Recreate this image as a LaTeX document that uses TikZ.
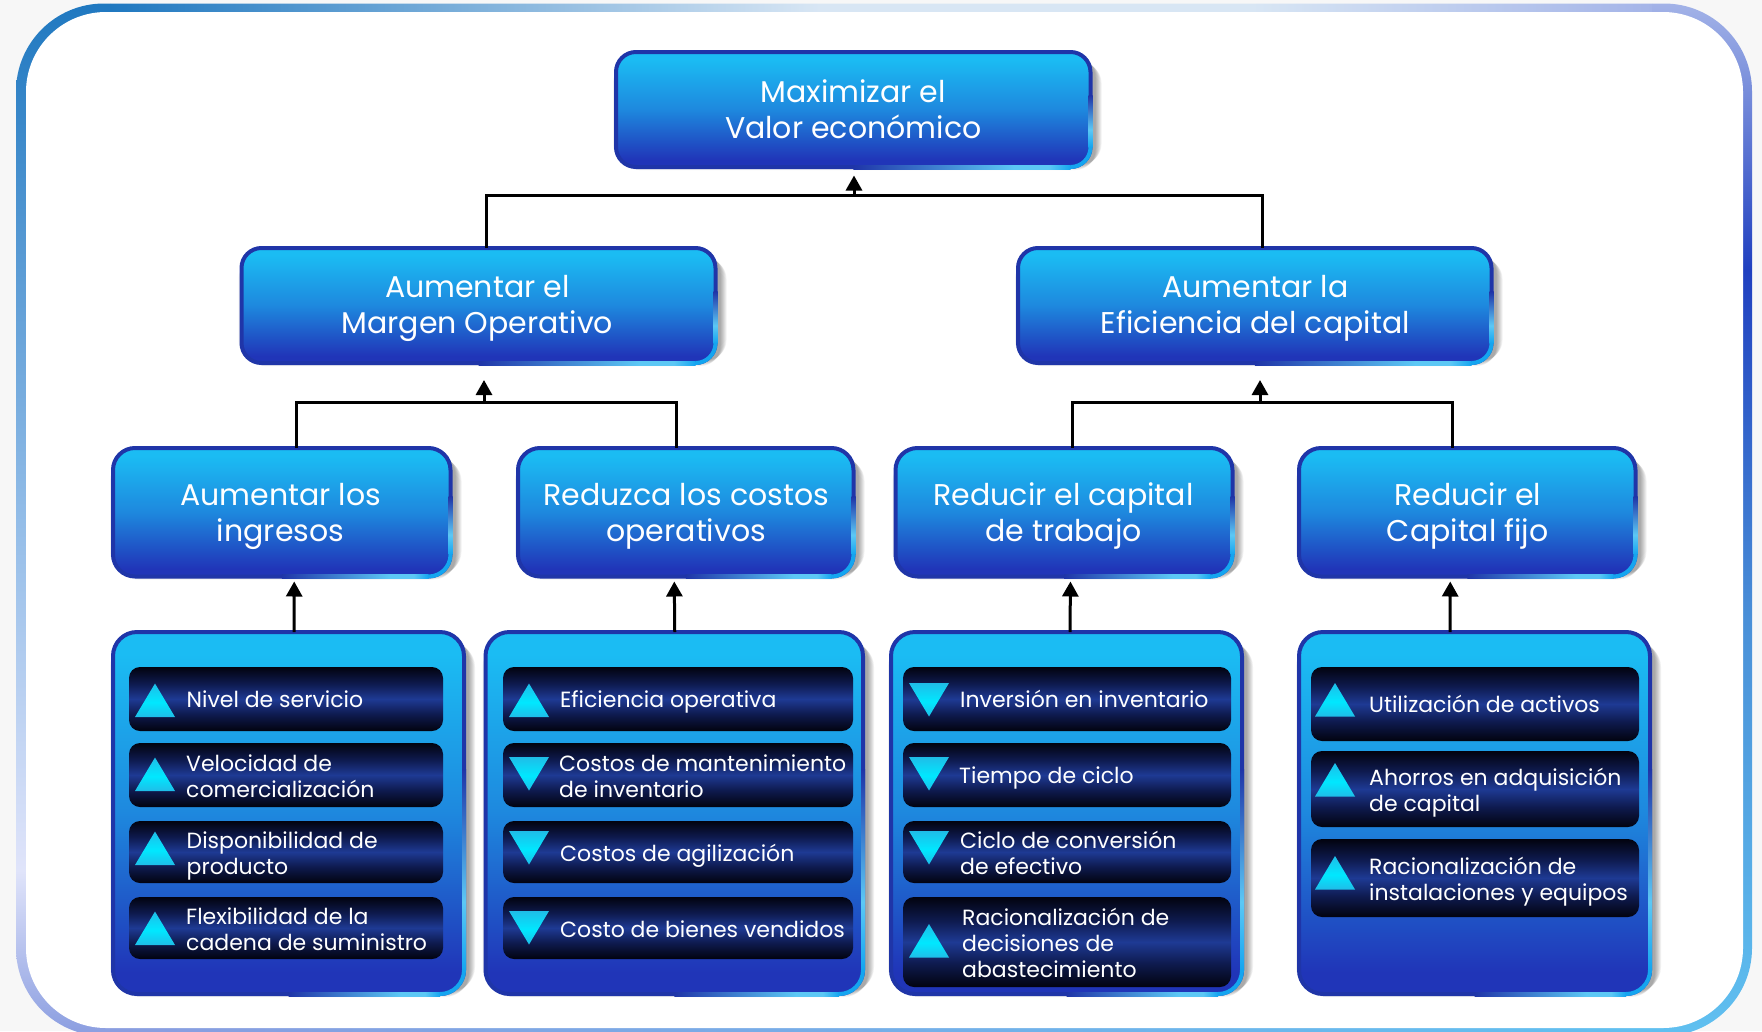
\documentclass[tikz,border=0pt]{standalone}
\usepackage{fontspec}
\setmainfont{Poppins}
\usetikzlibrary{arrows.meta,calc}
\pgfdeclarelayer{framelayer}
\pgfdeclarelayer{shadowlayer}
\pgfsetlayers{framelayer,shadowlayer,main}
\definecolor{bordB}{HTML}{1F35A8}
\definecolor{topC}{HTML}{1BBCF3}
\definecolor{midC}{HTML}{1E88DE}
\definecolor{botC}{HTML}{2035B8}
\definecolor{glowA}{HTML}{5CC8F5}
\definecolor{glowB}{HTML}{14A5F0}
\pgfdeclareverticalshading{boxsh}{100bp}{color(0bp)=(botC);color(25bp)=(botC);color(28bp)=(botC);color(50bp)=(midC);color(72bp)=(topC);color(75bp)=(topC);color(100bp)=(topC)}
\definecolor{rowD}{HTML}{02030F}
\definecolor{rowM}{HTML}{0E1A4E}
\definecolor{rowC}{HTML}{1E3A94}
\pgfdeclareverticalshading{rowshade}{100bp}{color(0bp)=(rowD);color(25bp)=(rowD);color(38bp)=(rowM);color(50bp)=(rowC);color(62bp)=(rowM);color(75bp)=(rowD);color(100bp)=(rowD)}
\definecolor{triA}{HTML}{1FBDE8}
\definecolor{triB}{HTML}{00E8FF}
\pgfdeclareverticalshading{tridn}{100bp}{color(0bp)=(triA);color(25bp)=(triA);color(47bp)=(triB);color(75bp)=(triA);color(100bp)=(triA)}
\pgfdeclarehorizontalshading{glowh}{100bp}{color(0bp)=(bordB);color(25bp)=(bordB);color(62bp)=(glowA);color(70bp)=(glowA);color(75bp)=(glowB);color(100bp)=(glowB)}
\pgfdeclareverticalshading{glowv}{100bp}{color(0bp)=(glowB);color(25bp)=(glowB);color(42bp)=(glowA);color(75bp)=(bordB);color(100bp)=(bordB)}
\definecolor{frA}{HTML}{1F78C0}
\definecolor{frB}{HTML}{D8E6F4}
\definecolor{frC}{HTML}{A4B4E8}
\definecolor{frD}{HTML}{2040C0}
\definecolor{frE}{HTML}{4A90D8}
\definecolor{frF}{HTML}{60C0F0}
\definecolor{frG}{HTML}{E0E4FA}
\definecolor{frH}{HTML}{8A9DE0}
\pgfdeclarehorizontalshading{frtop}{100bp}{color(0bp)=(frA);color(25bp)=(frA);color(48bp)=(frB);color(62bp)=(frB);color(75bp)=(frC);color(100bp)=(frC)}
\pgfdeclarehorizontalshading{frbot}{100bp}{color(0bp)=(frH);color(25bp)=(frH);color(75bp)=(frF);color(100bp)=(frF)}
\pgfdeclareverticalshading{frleft}{100bp}{color(0bp)=(frH);color(25bp)=(frH);color(33bp)=(frG);color(50bp)=(frE!60!white);color(75bp)=(frA);color(100bp)=(frA)}
\pgfdeclareverticalshading{frright}{100bp}{color(0bp)=(frF);color(25bp)=(frF);color(45bp)=(frE);color(62bp)=(frD);color(75bp)=(frC);color(100bp)=(frC)}
\tikzset{
  x=1pt,y=-1pt,
  bluebox/.style={rounded corners=#1,draw=bordB,line width=4pt,shading=boxsh,inner sep=0pt,outer sep=0pt},
  bigtxt/.style={text=white,align=center,inner sep=0pt,font=\fontsize{30}{36}\selectfont},
  rowbox/.style={rounded corners=11pt,shading=rowshade,inner sep=0pt},
  rowtxt/.style={text=white,align=left,inner sep=0pt,anchor=base west,font=\fontsize{22}{26}\selectfont},
  link/.style={line width=3pt,draw=black},
  arr/.style={link,-{Triangle[width=16pt,length=15pt]}},
}
% name, x0, y0, x1, y1, radius
\newcommand\bxnode[6]{%
  \pgfmathsetmacro\cxv{(#2+#4)/2}\pgfmathsetmacro\cyv{(#3+#5)/2}%
  \pgfmathsetmacro\wv{#4-#2-4}\pgfmathsetmacro\hv{#5-#3-4}%
  \node[bluebox=#6,minimum width=\wv pt,minimum height=\hv pt] (#1) at (\cxv,\cyv) {};%
  \begin{pgfonlayer}{shadowlayer}
    \foreach \k in {1,2,...,7}{%
      \fill[black,opacity=.055,rounded corners=#6]
        ([xshift={4pt-\k pt},yshift={-4pt+\k pt}]#1.south west) rectangle ([xshift={4pt+\k pt},yshift={-4pt-\k pt}]#1.north east);}
  \end{pgfonlayer}
  \shade[shading=glowh] ([xshift={-0.5*\wv pt},yshift=-2pt]#1.south east) rectangle ([xshift=-#6 pt,yshift=2pt]#1.south east);
  \shade[shading=glowv] ([xshift=-2pt,yshift=#6 pt]#1.south east) rectangle ([xshift=2pt,yshift={0.62*\hv pt}]#1.south east);
  \draw[glowB,line width=4pt,rounded corners=#6] ([xshift=-#6 pt]#1.south east) -- (#1.south east) -- ([yshift=#6 pt]#1.south east);
}
\newcommand\rownode[5]{%
  \pgfmathsetmacro\cxv{(#2+#4)/2}\pgfmathsetmacro\cyv{(#3+#5)/2}%
  \pgfmathsetmacro\wv{#4-#2}\pgfmathsetmacro\hv{#5-#3}%
  \node[rowbox,minimum width=\wv pt,minimum height=\hv pt] (#1) at (\cxv,\cyv) {};}
\newcommand\upT[2]{\shade[shading=tridn] (#1,#2+33.5) -- (#1+40,#2+33.5) -- (#1+20,#2) -- cycle;}
\newcommand\dnT[2]{\shade[shading=tridn] (#1,#2) -- (#1+40,#2) -- (#1+20,#2+33.5) -- cycle;}
\begin{document}
\begin{tikzpicture}
\useasboundingbox (0,0) rectangle (1762,1031);
\begin{pgfonlayer}{framelayer}
  \fill[black!3] (0,0) rectangle (1762,1031);
  \begin{scope}
    \clip[rounded corners=88pt] (16,3.5) rectangle (1752,1036);
    \shade[shading=frleft] (0,0) rectangle (110,1036);
    \shade[shading=frright] (1652,0) rectangle (1762,1036);
    \shade[shading=frtop] (110,0) rectangle (1652,100);
    \shade[shading=frbot] (110,936) rectangle (1652,1036);
  \end{scope}
  \fill[white,rounded corners=80pt] (26,12) rectangle (1743,1028);
\end{pgfonlayer}
% boxes
\bxnode{top}{614}{50}{1092.5}{169}{20}
\bxnode{m1}{239.5}{246}{717.5}{365}{20}
\bxnode{m2}{1016}{246}{1493.5}{365}{20}
\bxnode{n1}{111}{446}{452.5}{578.5}{22}
\bxnode{n2}{516}{446}{855.5}{578.5}{22}
\bxnode{n3}{893.5}{446}{1234.5}{578.5}{22}
\bxnode{n4}{1297}{446}{1637.5}{578.5}{22}
\node[bigtxt] (topt) at (top.center) {Maximizar el\\Valor económico};
\node[bigtxt] (m1t) at ([xshift=-1.2pt,yshift=-3pt]m1.center) {Aumentar el\\Margen Operativo};
\node[bigtxt] (m2t) at ([xshift=.5pt,yshift=-3pt]m2.center) {Aumentar la\\Eficiencia del capital};
\node[bigtxt] (n1t) at ([xshift=-1.2pt,yshift=-4pt]n1.center) {Aumentar los\\ingresos};
\node[bigtxt] (n2t) at ([xshift=.5pt,yshift=-4pt]n2.center) {Reduzca los costos\\operativos};
\node[bigtxt] (n3t) at ([xshift=-.5pt,yshift=-3.5pt]n3.center) {Reducir el capital\\de trabajo};
\node[bigtxt] (n4t) at ([xshift=.5pt,yshift=-3.5pt]n4.center) {Reducir el\\Capital fijo};
% panels
\bxnode{l1}{111}{630}{466}{996}{24}
\bxnode{l2}{483.5}{630}{865}{996}{24}
\bxnode{l3}{889}{630}{1244}{996}{24}
\bxnode{l4}{1297}{630}{1652}{996}{24}
% connectors
\coordinate (j1) at (854,195);
\coordinate (j2) at (484,402);
\coordinate (j3) at (1260,402);
\draw[link] ([xshift=8pt]m1.north) |- (j1) -| ([xshift=7.5pt]m2.north);
\draw[arr,shorten >=8.5pt] (j1) -- (j1 |- top.south);
\draw[link] ([xshift=14.5pt]n1.north) |- (j2) -| ([xshift=-9.5pt]n2.north);
\draw[arr,shorten >=17pt] (j2) -- (j2 |- m1.south);
\draw[link] ([xshift=8.5pt]n3.north) |- (j3) -| ([xshift=-15pt]n4.north);
\draw[arr,shorten >=17pt] (j3) -- (j3 |- m2.south);
\draw[arr,shorten >=5pt] ([xshift=5.5pt]l1.north) -- ([xshift=12.5pt]n1.south);
\draw[arr,shorten >=5pt] ([xshift=.5pt]l2.north) -- ([xshift=-11.5pt]n2.south);
\draw[arr,shorten >=5pt] ([xshift=3.5pt]l3.north) -- ([xshift=6.5pt]n3.south);
\draw[arr,shorten >=5pt] ([xshift=-24.5pt]l4.north) -- ([xshift=-17pt]n4.south);
% column 1
\rownode{r11}{129}{667}{443}{731}
\rownode{r12}{129}{743}{443}{807}
\rownode{r13}{129}{821}{443}{883}
\rownode{r14}{129}{897}{443}{959}
\upT{135}{683.5}\upT{135}{757.5}\upT{135}{831.5}\upT{135}{911.5}
\node[rowtxt] (t11) at (186.5,707) {Nivel de servicio};
\node[rowtxt] (t12) at (186,797) {Velocidad de\\comercialización};
\node[rowtxt] (t13) at (186.5,874) {Disponibilidad de\\producto};
\node[rowtxt] (t14) at (186,950) {Flexibilidad de la\\cadena de suministro};
% column 2
\rownode{r21}{503}{667}{853}{731}
\rownode{r22}{503}{743}{853}{807}
\rownode{r23}{503}{821}{853}{883}
\rownode{r24}{503}{897}{853}{959}
\upT{509}{683.5}\dnT{509}{757}\dnT{509}{831}\dnT{509}{911}
\node[rowtxt] (t21) at (560,707) {Eficiencia operativa};
\node[rowtxt] (t22) at (559,797) {Costos de mantenimiento\\de inventario};
\node[rowtxt] (t23) at (560,861) {Costos de agilización};
\node[rowtxt] (t24) at (560,937) {Costo de bienes vendidos};
% column 3
\rownode{r31}{903}{667}{1231}{731}
\rownode{r32}{903}{743}{1231}{807}
\rownode{r33}{903}{821}{1231}{883}
\rownode{r34}{903}{897}{1231}{987}
\dnT{909}{683}\dnT{909}{757}\dnT{909}{831}\upT{909}{924}
\node[rowtxt] (t31) at (960,707) {Inversión en inventario};
\node[rowtxt] (t32) at (959,783) {Tiempo de ciclo};
\node[rowtxt] (t33) at (960,874) {Ciclo de conversión\\de efectivo};
\node[rowtxt] (t34) at (962,977) {Racionalización de\\decisiones de\\abastecimiento};
% column 4
\rownode{r41}{1311}{667}{1639}{741}
\rownode{r42}{1311}{751}{1639}{827}
\rownode{r43}{1311}{839}{1639}{917}
\upT{1315}{683}\upT{1315}{763}\upT{1315}{856}
\node[rowtxt] (t41) at (1369,712) {Utilización de activos};
\node[rowtxt] (t42) at (1369,811) {Ahorros en adquisición\\de capital};
\node[rowtxt] (t43) at (1369,900) {Racionalización de\\instalaciones y equipos};
\end{tikzpicture}
\end{document}
